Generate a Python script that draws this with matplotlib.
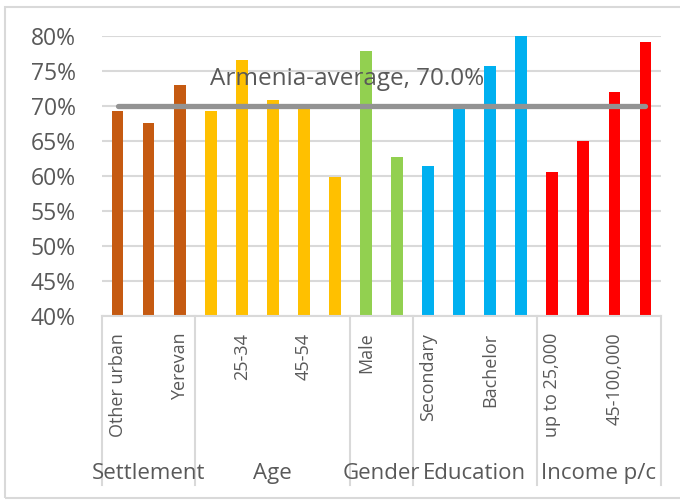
import numpy as np
import matplotlib.pyplot as plt
from matplotlib.patches import Rectangle

plt.rcParams['font.family'] = ['Open Sans', 'DejaVu Sans']

# data
labels = ["Other urban", "Rural", "Yerevan",
          "18-24", "25-34", "35-44", "45-54", "55+",
          "Male", "Female",
          "Secondary", "Vocational", "Bachelor", "Master+",
          "up to 25,000", "25-45,000", "45-100,000", "100,000+"]
values = [69.3, 67.6, 73.0,
          69.3, 76.6, 70.9, 69.9, 59.8,
          77.9, 62.7,
          61.4, 70.0, 75.7, 80.0,
          60.6, 65.0, 72.0, 79.1]
groups = ["Settlement", "Age", "Gender", "Education", "Income p/c"]
group_sizes = [3, 5, 2, 4, 4]
group_colors = ["#C55A11", "#FFC000", "#92D050", "#00B0F0", "#FF0000"]
average = 70.0

txt = "#595959"
grid_c = "#D9D9D9"

fig = plt.figure(figsize=(6.8, 5.04), dpi=100)
ax = fig.add_axes([102 / 680, 1 - 316 / 504, 559 / 680, 280 / 504])

colors = []
for c, n in zip(group_colors, group_sizes):
    colors += [c] * n

x = np.arange(len(values))
ax.bar(x, values, width=0.38, color=colors, zorder=2)
ax.set_xlim(-0.5, len(values) - 0.5)
ax.set_ylim(40, 80)
ax.set_yticks(np.arange(40, 81, 5))
ax.set_yticklabels([f"{v}%" for v in range(40, 81, 5)])
ax.yaxis.grid(True, color=grid_c, linewidth=1.5, zorder=0)
ax.set_axisbelow(True)
for s in ["top", "right", "left"]:
    ax.spines[s].set_visible(False)
ax.spines["bottom"].set_color(grid_c)
ax.spines["bottom"].set_linewidth(1.5)

ax.set_xticks(x)
ax.set_xticklabels([l if i % 2 == 0 else "" for i, l in enumerate(labels)],
                   rotation=90, fontsize=13, color=txt)
ax.tick_params(axis="x", length=0, pad=12)
ax.tick_params(axis="y", length=0, labelsize=16.5, labelcolor=txt, pad=19)

# average line
ax.plot([0, len(values) - 1], [average, average], color="#939393",
        linewidth=3.8, solid_capstyle="round", zorder=3)
ax.text(7.4, 73.9, f"Armenia-average, {average:.1f}%", ha="center", va="center",
        fontsize=17.5, color=txt, zorder=4)

# group separators and names
trans = ax.get_xaxis_transform()
bounds = np.concatenate([[0], np.cumsum(group_sizes)]) - 0.5
for b in bounds:
    ax.plot([b, b], [0, -0.605], transform=trans, color=grid_c,
            linewidth=1.5, clip_on=False)
for g, lo, hi in zip(groups, bounds[:-1], bounds[1:]):
    ax.text((lo + hi) / 2, -0.562, g, transform=trans, ha="center",
            va="center", fontsize=16, color=txt)

# chart frame
fig.patches.append(Rectangle((5 / 680, 6 / 504), 680 / 680, 491 / 504,
                             transform=fig.transFigure, fill=False,
                             edgecolor=grid_c, linewidth=1.5))

fig.savefig("out.png", dpi=100)
